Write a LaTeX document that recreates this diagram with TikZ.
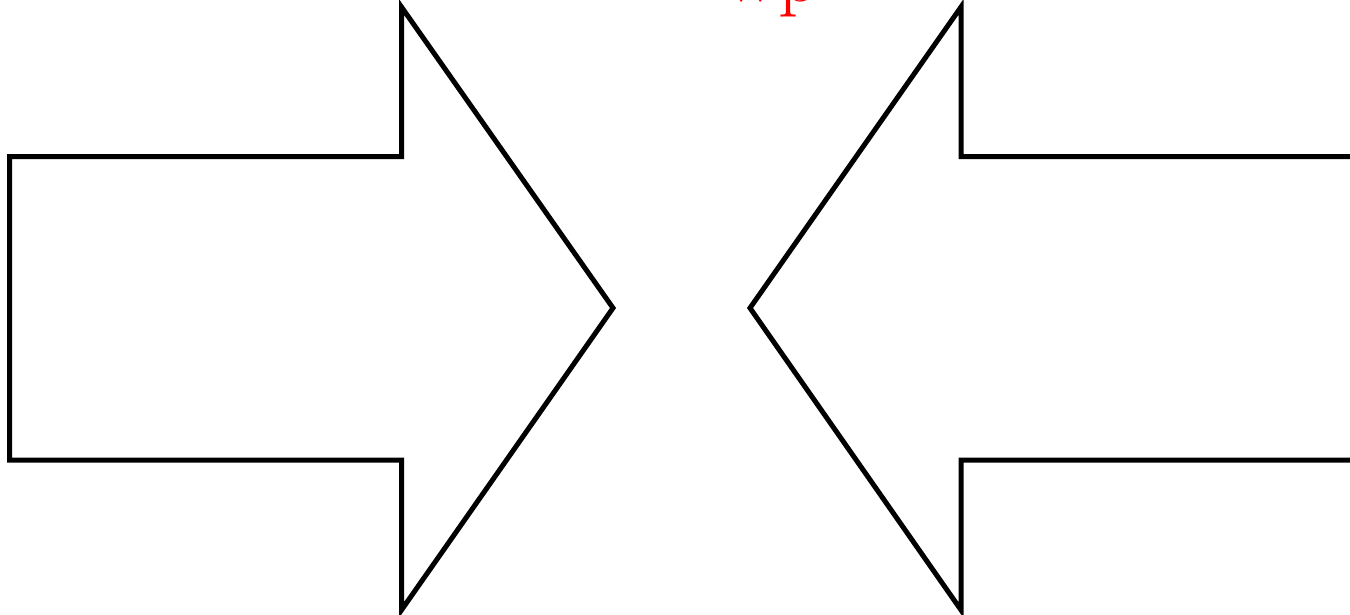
\documentclass[tikz,border=0pt]{standalone}
\tikzset{arrowshape/.style={draw=black,line width=5pt,line join=miter,fill=white},
  redtext/.style={text=red,inner sep=0pt,anchor=base,font=\fontsize{80}{80}\selectfont}}
\begin{document}
\begin{tikzpicture}[x=1pt,y=-1pt]
\useasboundingbox (0,0) rectangle (1350,614);
\clip (0,0) rectangle (1350,614);
\draw[arrowshape] (9.5,156.5) -- (401.5,156.5) -- (401.5,7) -- (613,308) -- (401.5,610) -- (401.5,460) -- (9.5,460) -- cycle;
\draw[arrowshape] (1360,156.5) -- (961,156.5) -- (961,7) -- (750,308) -- (961,610) -- (961,460) -- (1360,460);
\node[redtext] (title) at (772,1) {wp};
\end{tikzpicture}
\end{document}
